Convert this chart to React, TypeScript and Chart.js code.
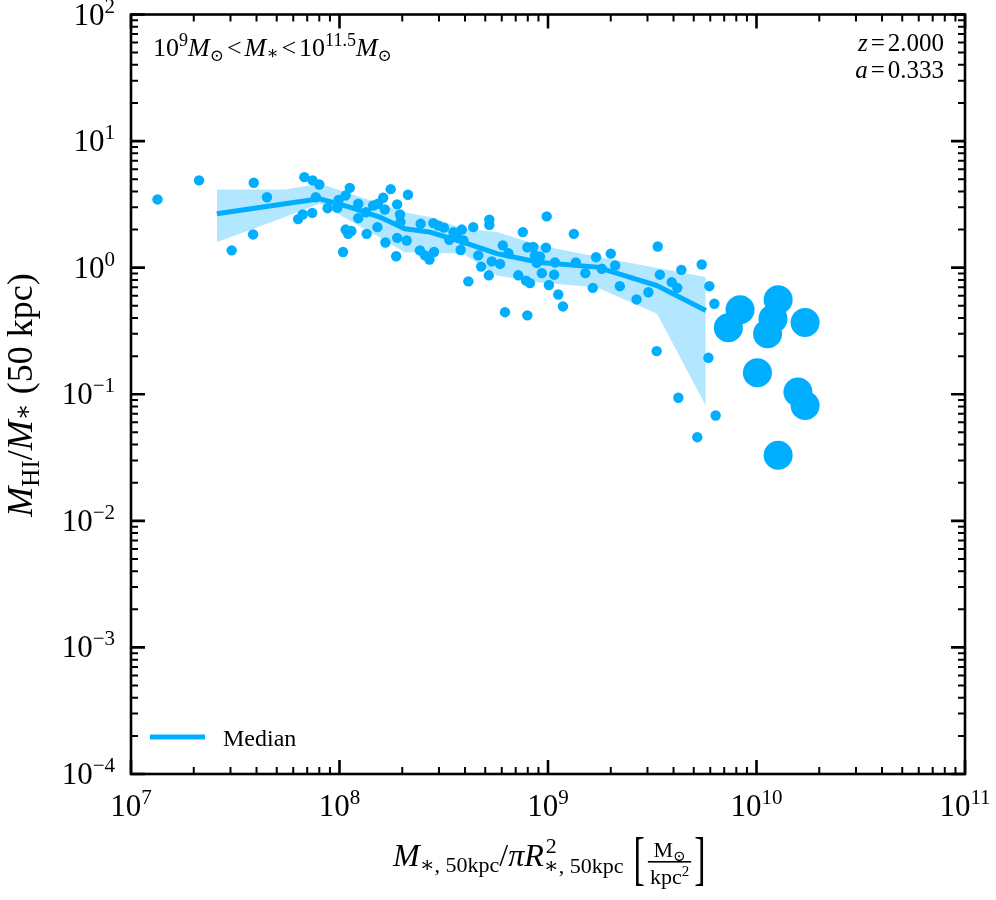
import React, { useEffect, useRef } from "react";
import { Chart, registerables } from "chart.js";

Chart.register(...registerables);

const BLUE = "#00aeff";
const BAND = "rgba(0,174,255,0.30)";
const FONT = '"Liberation Serif", "Times New Roman", "DejaVu Serif", "DejaVu Sans", serif';

// small scatter points (surface density, HI fraction)
const dotX = [
  1.34e7, 2.12e7, 3.04e7, 3.88e7, 3.85e7, 4.49e7, 6.33e7, 6.66e7, 6.78e7, 7.43e7,
  8.0e7, 7.4e7, 7.7e7, 8.77e7, 9.77e7, 9.9e7, 1.07e8, 1.12e8, 1.23e8, 1.23e8,
  1.07e8, 1.1e8, 1.14e8, 1.04e8, 1.35e8, 1.34e8, 1.45e8, 1.53e8, 1.62e8, 1.76e8,
  1.65e8, 1.52e8, 1.66e8, 1.87e8, 1.89e8, 1.95e8, 1.96e8, 1.89e8, 2.1e8, 2.13e8,
  2.45e8, 2.43e8, 2.57e8, 2.7e8, 2.84e8, 2.82e8, 2.98e8, 3.17e8, 3.36e8, 3.52e8,
  3.65e8, 3.86e8, 3.81e8, 4.15e8, 4.38e8, 4.63e8, 4.78e8, 5.2e8, 5.23e8, 5.23e8,
  5.37e8, 5.89e8, 6.07e8, 6.46e8, 6.22e8, 7.2e8, 7.57e8, 7.85e8, 8.2e8, 7.96e8,
  7.96e8, 8.5e8, 8.65e8, 9.16e8, 8.83e8, 9.78e8, 9.86e8, 9.34e8, 1.01e9, 1.07e9,
  1.08e9, 1.12e9, 1.18e9, 1.33e9, 1.36e9, 1.51e9, 1.64e9, 1.7e9, 1.81e9, 2.0e9,
  2.1e9, 2.21e9, 2.66e9, 3.03e9, 3.36e9, 3.44e9, 3.32e9, 3.92e9, 4.17e9, 4.36e9,
  4.22e9, 5.46e9, 5.2e9, 5.94e9, 6.28e9, 5.88e9, 6.37e9, 3.93e8,
];
const dotY = [
  3.46, 4.89, 1.37, 4.69, 1.83, 3.6, 2.42, 2.63, 5.19, 4.89,
  4.54, 2.71, 3.6, 2.95, 2.97, 3.43, 3.72, 4.27, 3.2, 2.46,
  2.0, 1.85, 1.95, 1.33, 1.85, 2.74, 3.1, 3.2, 3.57, 4.17,
  2.88, 2.09, 1.58, 1.23, 3.16, 2.63, 2.3, 1.72, 1.64, 3.77,
  2.22, 1.37, 1.25, 1.16, 1.33, 2.25, 2.15, 2.07, 1.66, 1.91,
  1.8, 2.0, 1.38, 0.78, 2.09, 1.25, 1.02, 0.87, 2.39, 2.18,
  1.12, 1.07, 1.5, 1.3, 0.445, 0.87, 1.91, 0.79, 0.755, 0.42,
  1.45, 1.46, 1.25, 1.22, 1.09, 1.44, 2.54, 0.905, 0.73, 0.88,
  1.1, 0.614, 0.494, 1.85, 1.1, 0.905, 0.693, 1.21, 0.98, 1.29,
  1.04, 0.714, 0.561, 0.64, 1.47, 0.88, 0.219, 0.769, 0.693, 0.96,
  0.0938, 1.06, 0.0458, 0.714, 0.519, 0.194, 0.068, 1.64,
];

// large points
const bigX = [8.34e9, 7.33e9, 1.27e10, 1.2e10, 1.13e10, 1.71e10, 1.01e10, 1.58e10, 1.71e10, 1.27e10];
const bigY = [0.465, 0.335, 0.557, 0.395, 0.3, 0.369, 0.148, 0.104, 0.0816, 0.0329];

// binned median and spread
const binX = [2.58e7, 5.48e7, 8.05e7, 1.12e8, 1.56e8, 2.06e8, 2.72e8, 3.91e8, 5.69e8, 9.16e8, 1.72e9, 3.33e9, 5.71e9];
const medY = [2.67, 3.2, 3.5, 3.01, 2.51, 2.03, 1.91, 1.59, 1.29, 1.1, 1.01, 0.723, 0.459];
const upY = [4.15, 4.15, 4.6, 3.85, 3.21, 2.73, 2.51, 2.04, 1.91, 1.5, 1.22, 0.995, 0.842];
const loY = [1.59, 2.51, 3.21, 2.36, 1.73, 1.32, 1.32, 1.29, 0.867, 0.764, 0.698, 0.432, 0.0816];

const xTickExps = [7, 8, 9, 10, 11];
const yTickExps = [-4, -3, -2, -1, 0, 1, 2];

type Seg = { t: string; s: number; i?: boolean; dy?: number; dx?: number; na?: boolean };

function fnt(s: number, i?: boolean) {
  return `${i ? "italic " : ""}${s}px ${FONT}`;
}
function segWidth(ctx: CanvasRenderingContext2D, segs: Seg[]) {
  let w = 0;
  for (const g of segs) {
    ctx.font = fnt(g.s, g.i);
    if (!g.na) w += ctx.measureText(g.t).width + (g.dx || 0);
  }
  return w;
}
function drawSegs(ctx: CanvasRenderingContext2D, segs: Seg[], x: number, y: number) {
  let cx = x;
  for (const g of segs) {
    ctx.font = fnt(g.s, g.i);
    ctx.fillText(g.t, cx + (g.dx || 0), y + (g.dy || 0));
    if (!g.na) cx += ctx.measureText(g.t).width + (g.dx || 0);
  }
  return cx;
}

const decorPlugin = {
  id: "decor",
  afterDraw(chart: any) {
    const ctx: CanvasRenderingContext2D = chart.ctx;
    const a = chart.chartArea;
    const xs = chart.scales.x;
    const ys = chart.scales.y;
    ctx.save();
    ctx.fillStyle = "#000";
    ctx.strokeStyle = "#000";
    ctx.textAlign = "left";
    ctx.textBaseline = "alphabetic";

    // ticks (inward, all sides)
    ctx.lineCap = "butt";
    for (let e = 7; e <= 11; e++) {
      for (let m = 1; m <= 9; m++) {
        if (e === 11 && m > 1) break;
        const px = xs.getPixelForValue(m * Math.pow(10, e));
        const major = m === 1;
        const len = major ? 14 : 7;
        ctx.lineWidth = major ? 2.6 : 2;
        ctx.beginPath();
        ctx.moveTo(px, a.bottom);
        ctx.lineTo(px, a.bottom - len);
        ctx.moveTo(px, a.top);
        ctx.lineTo(px, a.top + len);
        ctx.stroke();
      }
    }
    for (let e = -4; e <= 2; e++) {
      for (let m = 1; m <= 9; m++) {
        if (e === 2 && m > 1) break;
        const py = ys.getPixelForValue(m * Math.pow(10, e));
        const major = m === 1;
        const len = major ? 14 : 7;
        ctx.lineWidth = major ? 2.6 : 2;
        ctx.beginPath();
        ctx.moveTo(a.left, py);
        ctx.lineTo(a.left + len, py);
        ctx.moveTo(a.right, py);
        ctx.lineTo(a.right - len, py);
        ctx.stroke();
      }
    }

    // frame
    ctx.lineWidth = 2.6;
    ctx.strokeRect(a.left, a.top, a.right - a.left, a.bottom - a.top);

    // tick labels
    for (const e of xTickExps) {
      const px = xs.getPixelForValue(Math.pow(10, e));
      const segs: Seg[] = [
        { t: "10", s: 31 },
        { t: String(e), s: 21, dy: -12 },
      ];
      const w = segWidth(ctx, segs);
      drawSegs(ctx, segs, px - w / 2, 816);
    }
    for (const e of yTickExps) {
      const py = ys.getPixelForValue(Math.pow(10, e));
      const es = e < 0 ? "\u2212" + Math.abs(e) : String(e);
      const segs: Seg[] = [
        { t: "10", s: 31 },
        { t: es, s: 21, dy: -12 },
      ];
      const w = segWidth(ctx, segs);
      drawSegs(ctx, segs, 115 - w, py + 10);
    }

    // top-left annotation
    drawSegs(
      ctx,
      [
        { t: "10", s: 26 },
        { t: "9", s: 18, dy: -10 },
        { t: "M", s: 26, i: true },
        { t: "\u2299", s: 17, dy: 5 },
        { t: "<", s: 26, dx: 3 },
        { t: "M", s: 26, i: true, dx: 3 },
        { t: "\u2217", s: 18, dy: 3 },
        { t: "<", s: 26, dx: 3 },
        { t: "10", s: 26, dx: 3 },
        { t: "11.5", s: 18, dy: -10 },
        { t: "M", s: 26, i: true },
        { t: "\u2299", s: 17, dy: 5 },
      ],
      153,
      56
    );

    // top-right annotation
    const zSegs: Seg[] = [
      { t: "z", s: 25, i: true },
      { t: "=", s: 25, dx: 3 },
      { t: "2.000", s: 25, dx: 3 },
    ];
    drawSegs(ctx, zSegs, 944 - segWidth(ctx, zSegs), 51);
    const aSegs: Seg[] = [
      { t: "a", s: 25, i: true },
      { t: "=", s: 25, dx: 3 },
      { t: "0.333", s: 25, dx: 3 },
    ];
    drawSegs(ctx, aSegs, 944 - segWidth(ctx, aSegs), 78);

    // legend
    ctx.strokeStyle = BLUE;
    ctx.lineWidth = 5;
    ctx.beginPath();
    ctx.moveTo(150, 737);
    ctx.lineTo(205, 737);
    ctx.stroke();
    ctx.font = fnt(24);
    ctx.fillText("Median", 223, 746);

    // y-axis title
    const ySegs: Seg[] = [
      { t: "M", s: 36, i: true },
      { t: "HI", s: 25, dy: 7 },
      { t: "/", s: 36 },
      { t: "M", s: 36, i: true },
      { t: "\u2217", s: 25, dy: -1 },
      { t: " (50 kpc)", s: 36 },
    ];
    const yw = segWidth(ctx, ySegs);
    ctx.save();
    ctx.translate(32, 395);
    ctx.rotate(-Math.PI / 2);
    drawSegs(ctx, ySegs, -yw / 2, 0);
    ctx.restore();

    // x-axis title
    const xSegs: Seg[] = [
      { t: "M", s: 32, i: true },
      { t: "\u2217, 50kpc", s: 22, dy: 6 },
      { t: "/", s: 32 },
      { t: "\u03c0", s: 32, i: true },
      { t: "R", s: 32, i: true },
      { t: "2", s: 22, dy: -13, na: true, dx: 2 },
      { t: "\u2217, 50kpc", s: 22, dy: 7 },
    ];
    const xb = 866;
    let cx = drawSegs(ctx, xSegs, 393, xb);
    cx += 10;
    // brackets and fraction
    ctx.save();
    ctx.font = fnt(34);
    ctx.translate(cx, xb + 12);
    ctx.scale(1, 1.75);
    ctx.fillText("[", 0, 0);
    const bw = ctx.measureText("[").width;
    ctx.restore();
    const fx0 = cx + bw + 3;
    const numSegs: Seg[] = [
      { t: "M", s: 22 },
      { t: "\u2299", s: 15, dy: 4 },
    ];
    const denSegs: Seg[] = [
      { t: "kpc", s: 22 },
      { t: "2", s: 15, dy: -8 },
    ];
    const nw = segWidth(ctx, numSegs);
    const dw = segWidth(ctx, denSegs);
    const fw = Math.max(nw, dw) + 4;
    drawSegs(ctx, numSegs, fx0 + (fw - nw) / 2, 857);
    ctx.fillRect(fx0, 861, fw, 1.6);
    drawSegs(ctx, denSegs, fx0 + (fw - dw) / 2, 884);
    ctx.save();
    ctx.font = fnt(34);
    ctx.translate(fx0 + fw + 3, xb + 12);
    ctx.scale(1, 1.75);
    ctx.fillText("]", 0, 0);
    ctx.restore();

    ctx.restore();
  },
};

export default function App() {
  const ref = useRef<HTMLCanvasElement | null>(null);
  useEffect(() => {
    document.body.style.margin = "0";
    const canvas = ref.current;
    if (!canvas) return;
    const pts = (xs: number[], ys: number[]) => xs.map((x, i) => ({ x, y: ys[i] }));
    const chart = new Chart(canvas, {
      type: "scatter",
      data: {
        datasets: [
          {
            type: "scatter",
            label: "big",
            data: pts(bigX, bigY),
            pointRadius: 14.5,
            pointHoverRadius: 14.5,
            backgroundColor: BLUE,
            borderWidth: 0,
            order: 1,
          } as any,
          {
            type: "scatter",
            label: "dots",
            data: pts(dotX, dotY),
            pointRadius: 5.2,
            pointHoverRadius: 5.2,
            backgroundColor: BLUE,
            borderWidth: 0,
            order: 2,
          } as any,
          {
            type: "line",
            label: "Median",
            data: pts(binX, medY),
            borderColor: BLUE,
            borderWidth: 5,
            pointRadius: 0,
            fill: false,
            tension: 0,
            order: 3,
          } as any,
          {
            type: "line",
            label: "upper",
            data: pts(binX, upY),
            borderColor: "rgba(0,0,0,0)",
            borderWidth: 0,
            pointRadius: 0,
            backgroundColor: BAND,
            fill: "+1",
            tension: 0,
            order: 4,
          } as any,
          {
            type: "line",
            label: "lower",
            data: pts(binX, loY),
            borderColor: "rgba(0,0,0,0)",
            borderWidth: 0,
            pointRadius: 0,
            fill: false,
            tension: 0,
            order: 4,
          } as any,
        ],
      },
      options: {
        animation: false,
        responsive: false,
        events: [],
        layout: { padding: { left: 131, right: 31, top: 14, bottom: 126 } },
        plugins: {
          legend: { display: false },
          tooltip: { enabled: false },
        },
        scales: {
          x: {
            type: "logarithmic",
            min: 1e7,
            max: 1e11,
            display: false,
          },
          y: {
            type: "logarithmic",
            min: 1e-4,
            max: 1e2,
            display: false,
          },
        },
      } as any,
      plugins: [decorPlugin],
    });
    return () => chart.destroy();
  }, []);
  return (
    <div style={{ width: 996, height: 900, background: "#fff" }}>
      <canvas ref={ref} width={996} height={900} style={{ display: "block" }} />
    </div>
  );
}
